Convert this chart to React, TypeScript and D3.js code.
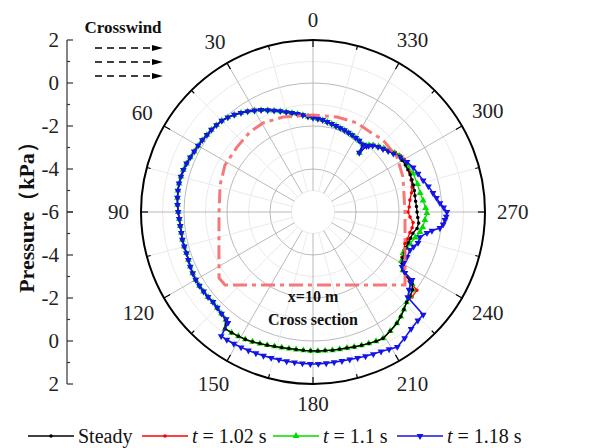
import React from "react";
import * as d3 from "d3";

// polar chart: angle in degrees, counter-clockwise from top; radius = pressure (kPa)
const W = 592;
const H = 448;
const CX = 313;
const CY = 212;
const R = 172;

const seriesNames = ["Steady", "t = 1.02 s", "t = 1.1 s", "t = 1.18 s"];
const seriesColors = ["#000000", "#ff0000", "#00dd00", "#1414e6"];

// [angle, pressure] for the steady case, whole loop
const steady: [number, number][] = [
  [0, -1.62], [3, -1.55], [6, -1.47], [9, -1.38], [12, -1.29], [15, -1.19], [18, -1.07],
  [21, -0.95], [24, -0.82], [27, -0.68], [30, -0.55], [33, -0.42], [36, -0.3], [39, -0.18],
  [42, -0.08], [45, 0.0], [48, 0.04], [51, 0.08], [54, 0.1], [57, 0.14], [60, 0.17],
  [63, 0.2], [66, 0.25], [69, 0.3], [72, 0.34], [75, 0.36], [78, 0.37], [81, 0.36],
  [84, 0.34], [87, 0.31], [90, 0.27], [93, 0.23], [96, 0.21], [99, 0.2], [102, 0.21],
  [105, 0.2], [108, 0.19], [111, 0.21], [114, 0.25], [117, 0.28], [120, 0.3], [123, 0.3],
  [126, 0.29], [129, 0.28], [132, 0.26], [135, 0.3], [138, 0.36], [141, 0.45],
  [143, 0.8], [146, 0.77], [149, 0.74], [152, 0.71], [155, 0.66], [158, 0.6], [161, 0.55],
  [164, 0.5], [167, 0.47], [170, 0.45], [173, 0.44], [176, 0.45], [179, 0.46], [182, 0.47],
  [185, 0.47], [188, 0.49], [191, 0.5], [194, 0.52], [197, 0.56], [200, 0.6], [203, 0.64],
  [206, 0.69], [209, 0.72], [213, 0.6], [217, 0.48], [220, 0.35], [223, 0.2], [226, 0.05],
  [229, -0.02], [232, -0.12], [234, -0.3], [235.5, -0.7], [237, -1.02], [240, -1.2],
  [243, -1.32], [246, -1.35], [249, -1.36], [252, -1.35], [255, -1.3], [258, -1.25],
  [261, -1.1], [264, -1.06], [267, -1.12], [270, -1.16], [273, -1.18], [276, -1.2],
  [279, -1.2], [282, -1.18], [285, -1.17], [288, -1.16], [291, -1.16], [294, -1.17],
  [297, -1.18], [300, -1.2], [303, -1.24], [306, -1.36], [309, -1.5], [312, -1.62],
  [315, -1.72], [318, -1.85], [320, -1.98], [321, -2.05], [322, -2.5], [323.5, -2.1],
  [327, -2.05], [330, -2.02], [333, -1.99], [336, -1.96], [339, -1.93], [342, -1.9],
  [345, -1.86], [348, -1.81], [351, -1.76], [354, -1.7], [357, -1.66],
];

// leeward parts where the transient cases differ from steady
const t102Lee: [number, number][] = [
  [226, 0.05], [229.4, 0.07], [233, 0.05], [234.5, -0.5], [237, -1.02], [240, -1.25],
  [243, -1.36], [247, -1.42], [251, -1.48], [254, -1.43], [258, -1.39], [261, -1.33],
  [264, -1.32], [267, -1.48], [270, -1.58], [273, -1.52], [277, -1.46], [281, -1.33],
  [284, -1.25], [288, -1.2], [292, -1.14], [296, -1.12], [300, -1.1], [303, -1.16],
  [306, -1.27], [309, -1.41], [312, -1.54], [315, -1.66], [318, -1.8], [320, -1.92],
];

const t11Lee: [number, number][] = [
  [234, -0.3], [237, -1.02], [241, -1.3], [245.5, -1.4], [249, -1.33], [252, -1.26],
  [256, -1.1], [259.4, -0.94], [262, -0.85], [265.9, -0.78], [269.5, -0.7], [272, -0.76],
  [276, -0.85], [280, -0.94], [285, -0.97], [291, -1.01], [296, -1.1], [300, -1.17],
  [303, -1.22], [306, -1.32], [309, -1.45], [312, -1.57], [315, -1.69], [318, -1.82],
  [320, -1.95],
];

const t118Lee: [number, number][] = [
  [141, 0.42], [142.5, 0.5], [143.5, 1.18], [146, 1.17], [149, 1.15], [152, 1.13],
  [155, 1.11], [158, 1.09], [161, 1.07], [164, 1.06], [167, 1.05], [170, 1.05], [173, 1.05],
  [176, 1.06], [179, 1.07], [182, 1.07], [185, 1.06], [188, 1.06], [191, 1.06], [194, 1.07],
  [197, 1.1], [200, 1.14], [203, 1.18], [206, 1.22], [209, 1.3], [212, 1.4], [216, 1.25],
  [220, 1.1], [224, 1.02], [227, 1.01], [228, -0.07], [231, -0.25], [234, -0.38],
  [235.5, -0.41], [236.5, -0.87], [238.3, -1.13], [241, -1.15], [244.4, -1.15],
  [248.6, -1.15], [251, -1.05], [253.6, -0.91], [256.8, -0.89], [259.6, -0.61],
  [261, -0.4], [262.8, -0.05], [264.5, 0.08], [266.5, 0.15], [268, 0.2], [270, 0.23],
  [272, 0.08], [274, -0.08], [276.5, -0.22], [279, -0.35], [282.5, -0.5], [286, -0.67],
  [290, -0.8], [294, -0.9], [298, -1.05], [302, -1.21], [306, -1.38], [309, -1.5],
  [312, -1.62], [315, -1.72], [318, -1.85],
];

// train cross-section outline at x=10 m, given in the same polar coordinates
const sectionOutline: [number, number][] = [
  [129.7, -0.68], [125.1, -0.66], [112, -1.28], [90, -1.63], [73.8, -1.5], [61.9, -1.36],
  [49.5, -1.35], [38.2, -1.26], [29.3, -1.25], [17.5, -1.37], [0, -1.49], [345.8, -1.44],
  [333.7, -1.38], [324.5, -1.43], [315.8, -1.33], [303.2, -1.33], [291.3, -1.51],
  [270, -1.72], [247.6, -1.37], [231.6, -0.54], [180, -2.6],
];

const angleLabels = [0, 30, 60, 90, 120, 150, 180, 210, 240, 270, 300, 330];
const radialTicks = [2, 0, -2, -4, -6, -4, -2, 0, 2];

const merge = (base: [number, number][], seg: [number, number][]) => {
  const a0 = seg[0][0];
  const a1 = seg[seg.length - 1][0];
  return [...base.filter((d) => d[0] < a0 || d[0] > a1), ...seg].sort((a, b) => a[0] - b[0]);
};

const rScale = d3.scaleLinear().domain([-6, 2]).range([0, R]);
const toXY = (a: number, p: number) => d3.pointRadial((-a * Math.PI) / 180, rScale(p));

const FONT = "'Liberation Serif', 'Times New Roman', serif";

export default function App() {
  const series = [
    { name: seriesNames[1], color: seriesColors[1], data: merge(steady, t102Lee), marker: "circle" },
    { name: seriesNames[2], color: seriesColors[2], data: merge(steady, t11Lee), marker: "up" },
    { name: seriesNames[0], color: seriesColors[0], data: steady, marker: "circle" },
    { name: seriesNames[3], color: seriesColors[3], data: merge(steady, t118Lee), marker: "down" },
  ];

  const loop = d3
    .line<[number, number]>()
    .x((d) => toXY(d[0], d[1])[0])
    .y((d) => toXY(d[0], d[1])[1])
    .curve(d3.curveLinearClosed);

  const circlePath = d3.symbol().type(d3.symbolCircle).size(10)() as string;
  const triPath = d3.symbol().type(d3.symbolTriangle).size(20)() as string;

  const markerEl = (kind: string, color: string, x: number, y: number, key: any) => {
    if (kind === "circle") return <path key={key} d={circlePath} transform={`translate(${x},${y})`} fill={color} />;
    const rot = kind === "down" ? 180 : 0;
    return <path key={key} d={triPath} transform={`translate(${x},${y}) rotate(${rot})`} fill={color} />;
  };

  const gridCircles = [-5, -4, -3, -2, -1, 0, 1];
  const spokes = d3.range(0, 360, 15);

  const legendX = [28, 142, 273, 397];
  const legendOrder = [0, 1, 2, 3];
  const legendMarkers = ["circle", "circle", "up", "down"];

  return (
    <svg width={W} height={H} style={{ position: "absolute", left: 0, top: 0, background: "#fff" }} fontFamily={FONT}>
      <g transform={`translate(${CX},${CY})`}>
        {/* grid circles */}
        {gridCircles.map((p) => (
          <circle key={p} r={rScale(p)} fill="none"
            stroke={p % 2 === 0 ? "#a8a8a8" : "#e4e4e4"} strokeWidth={0.8} />
        ))}
        {/* spokes */}
        {spokes.map((a) => {
          const [x1, y1] = toXY(a, -5);
          const [x2, y2] = toXY(a, 2);
          return <line key={a} x1={x1} y1={y1} x2={x2} y2={y2}
            stroke={a % 30 === 0 ? "#a8a8a8" : "#e4e4e4"} strokeWidth={0.8} />;
        })}
        {/* outer circle + ticks */}
        <circle r={R} fill="none" stroke="#000" strokeWidth={2} />
        {spokes.map((a) => {
          const len = a % 30 === 0 ? 7 : 4;
          const [x1, y1] = d3.pointRadial((-a * Math.PI) / 180, R);
          const [x2, y2] = d3.pointRadial((-a * Math.PI) / 180, R - len);
          return <line key={"t" + a} x1={x1} y1={y1} x2={x2} y2={y2} stroke="#000" strokeWidth={1.2} />;
        })}
        {angleLabels.map((a) => {
          const rad = (a * Math.PI) / 180;
          const w = String(a).length * 10.5;
          const off = 184 + Math.abs(Math.sin(rad)) * (w / 2) + Math.abs(Math.cos(rad)) * 8;
          const [x, y] = d3.pointRadial(-rad, off);
          return (
            <text key={"l" + a} x={x} y={y} textAnchor="middle" dominantBaseline="central"
              fontSize={21} fill="#222">{a}</text>
          );
        })}

        {/* pressure curves */}
        {series.map((s) => (
          <g key={s.name}>
            <path d={loop(s.data) as string} fill="none" stroke={s.color}
              strokeWidth={s.marker === "down" ? 1.6 : 1.3} />
            {s.data.map((d, i) => {
              const [x, y] = toXY(d[0], d[1]);
              return markerEl(s.marker, s.color, x, y, i);
            })}
          </g>
        ))}

        {/* cross-section outline */}
        <path d={loop(sectionOutline) as string} fill="none" stroke="#f46a6a" strokeOpacity={0.9}
          strokeWidth={3} strokeDasharray="14 5 4 5" />

        <text x={0} y={90} textAnchor="middle" fontWeight="bold" fontSize={16} fill="#111">x=10 m</text>
        <text x={0} y={113} textAnchor="middle" fontWeight="bold" fontSize={16} fill="#111">Cross section</text>
      </g>

      {/* radial pressure axis on the left */}
      <g>
        <line x1={67} x2={67} y1={CY - R} y2={CY + R} stroke="#333" strokeWidth={1.2} />
        {d3.range(-6, 3, 1).flatMap((p) => {
          const r = rScale(p);
          const len = p % 2 === 0 ? 6 : 3;
          return [
            <line key={"a" + p} x1={67} x2={67 + len} y1={CY - r} y2={CY - r} stroke="#333" strokeWidth={1.2} />,
            <line key={"b" + p} x1={67} x2={67 + len} y1={CY + r} y2={CY + r} stroke="#333" strokeWidth={1.2} />,
          ];
        })}
        {radialTicks.map((p, i) => {
          const y = i < 4 ? CY - rScale(p) : CY + rScale(p);
          return (
            <text key={"r" + i} x={59} y={y} textAnchor="end" dominantBaseline="central"
              fontSize={21} fill="#222">{p}</text>
          );
        })}
        <text transform={`translate(26,${CY}) rotate(-90)`} textAnchor="middle" dominantBaseline="central"
          fontSize={22} fontWeight="bold" fill="#111">Pressure（kPa）</text>
      </g>

      {/* crosswind note */}
      <text x={123} y={33} textAnchor="middle" fontWeight="bold" fontSize={17} fill="#111">Crosswind</text>
      {[48, 62, 76].map((y) => (
        <g key={y}>
          <line x1={95} x2={154} y1={y} y2={y} stroke="#000" strokeWidth={1.3} strokeDasharray="7 5" />
          <path d={`M163,${y} L152,${y - 3} L152,${y + 3} Z`} fill="#000" />
        </g>
      ))}

      {/* legend */}
      {legendOrder.map((k) => {
        const x0 = legendX[k];
        const y = 436;
        return (
          <g key={"lg" + k}>
            <line x1={x0} x2={x0 + 46} y1={y} y2={y} stroke={seriesColors[k]} strokeWidth={1.5} />
            {markerEl(legendMarkers[k], seriesColors[k], x0 + 23, y, "m")}
            <text x={x0 + 50} y={y} dominantBaseline="central" fontSize={20} fill="#111">
              {k === 0 ? (
                seriesNames[0]
              ) : (
                <>
                  <tspan fontStyle="italic">t</tspan>
                  {seriesNames[k].slice(1)}
                </>
              )}
            </text>
          </g>
        );
      })}
    </svg>
  );
}
